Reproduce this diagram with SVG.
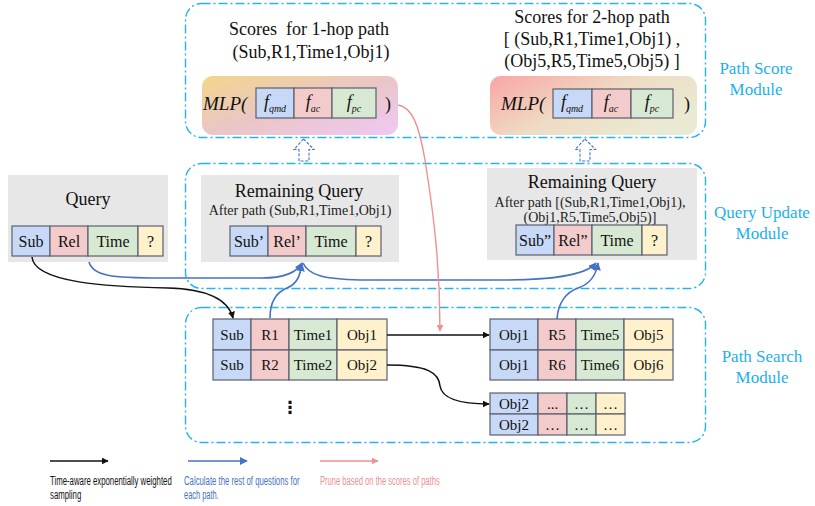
<svg xmlns="http://www.w3.org/2000/svg" width="815" height="506" viewBox="0 0 815 506">
  <defs>
    <style>
      .module { fill: none; stroke: #22b4f0; stroke-width: 1.4; stroke-dasharray: 9 3 2 3; }
      .mlabel { font-family: "Liberation Serif", "Times New Roman", serif; font-size: 17px; fill: #1db0ee; text-anchor: middle; }
      .serif { font-family: "Liberation Serif", "Times New Roman", serif; fill: #111; }
      .title { font-size: 18px; text-anchor: middle; }
      .small { font-size: 14px; text-anchor: middle; fill: #222; }
      .gray { fill: #e7e7e7; }
      .cell { stroke: #5a6070; stroke-width: 1.2; }
      .cb { fill: #c7d9f6; }
      .cr { fill: #f4cbcb; }
      .cg { fill: #d8e9d3; }
      .cy { fill: #fff1cb; }
      .ct { font-family: "Liberation Serif", "Times New Roman", serif; font-size: 15px; fill: #111; text-anchor: middle; }
      .qt { font-family: "Liberation Serif", "Times New Roman", serif; font-size: 16px; fill: #111; text-anchor: middle; }
      .it { font-family: "Liberation Serif", "Times New Roman", serif; font-style: italic; fill: #111; }
      .fx { font-size: 18px; text-anchor: middle; }
      .sub { font-size: 10px; }
      .blk { fill: none; stroke: #111; stroke-width: 1.5; }
      .blu { fill: none; stroke: #4472c4; stroke-width: 1.6; }
      .pnk { fill: none; stroke: #ee9191; stroke-width: 1.4; }
      .hollow { fill: #fff; stroke: #4472c4; stroke-width: 1.1; stroke-dasharray: 3 1.6; }
      .leg { font-family: "Liberation Sans", Arial, sans-serif; font-size: 12px; }
    </style>
    <linearGradient id="g1" x1="0" y1="0" x2="1" y2="1">
      <stop offset="0" stop-color="#f3d68a"/>
      <stop offset="0.5" stop-color="#eac6c6"/>
      <stop offset="1" stop-color="#efc8f5"/>
    </linearGradient>
    <linearGradient id="g2" x1="0" y1="0" x2="1" y2="0.6">
      <stop offset="0" stop-color="#f9a5a5"/>
      <stop offset="0.55" stop-color="#efdcc4"/>
      <stop offset="1" stop-color="#eaead4"/>
    </linearGradient>
    <marker id="ak" viewBox="0 0 10 10" refX="9" refY="5" markerWidth="7" markerHeight="7" markerUnits="userSpaceOnUse" orient="auto">
      <path d="M0,0 L10,5 L0,10 Z" fill="#111"/>
    </marker>
    <marker id="ab" viewBox="0 0 10 10" refX="9" refY="5" markerWidth="8" markerHeight="8" markerUnits="userSpaceOnUse" orient="auto">
      <path d="M0,0 L10,5 L0,10 Z" fill="#4472c4"/>
    </marker>
    <marker id="ap" viewBox="0 0 10 10" refX="9" refY="5" markerWidth="7" markerHeight="7" markerUnits="userSpaceOnUse" orient="auto">
      <path d="M0,0 L10,5 L0,10 Z" fill="#ee9191"/>
    </marker>
  </defs>

  <rect width="815" height="506" fill="#fff"/>

  <!-- module frames -->
  <g id="path-score-module">
    <rect class="module" x="185.5" y="3.5" width="520" height="134" rx="16"/>
    <text class="mlabel" x="756" y="74">Path Score</text>
    <text class="mlabel" x="756" y="95">Module</text>
  </g>
  <g id="query-update-module">
    <rect class="module" x="185.5" y="163.5" width="520" height="125" rx="16"/>
    <text class="mlabel" x="762" y="218">Query Update</text>
    <text class="mlabel" x="762" y="239">Module</text>
  </g>
  <g id="path-search-module">
    <rect class="module" x="185.5" y="307.5" width="520" height="135" rx="16"/>
    <text class="mlabel" x="762" y="362">Path Search</text>
    <text class="mlabel" x="762" y="383">Module</text>
  </g>

  <!-- score captions -->
  <g id="score-1hop">
    <text class="serif title" x="309" y="35">Scores&#160; for 1-hop path</text>
    <text class="serif title" x="311" y="58">(Sub,R1,Time1,Obj1)</text>
  </g>
  <g id="score-2hop">
    <text class="serif title" x="592" y="23">Scores for 2-hop path</text>
    <text class="serif title" x="592" y="45">[ (Sub,R1,Time1,Obj1) ,</text>
    <text class="serif title" x="592" y="67">(Obj5,R5,Time5,Obj5) ]</text>
  </g>

  <!-- MLP scorers -->
  <g id="mlp-1">
    <rect x="202" y="76" width="196" height="59" rx="11" fill="url(#g1)"/>
    <text class="it" x="203" y="110" font-size="19">MLP(</text>
    <rect class="cell cb" x="256" y="88" width="38" height="30"/>
    <rect class="cell cr" x="294" y="88" width="38" height="30"/>
    <rect class="cell cg" x="332" y="88" width="44" height="30"/>
    <text class="it fx" x="275" y="108">f<tspan class="sub" dy="4">qmd</tspan></text>
    <text class="it fx" x="313" y="108">f<tspan class="sub" dy="4">ac</tspan></text>
    <text class="it fx" x="354" y="108">f<tspan class="sub" dy="4">pc</tspan></text>
    <text class="serif" x="385" y="110" font-size="18">)</text>
  </g>
  <g id="mlp-2">
    <rect x="490" y="76" width="207" height="59" rx="11" fill="url(#g2)"/>
    <text class="it" x="501" y="110" font-size="19">MLP(</text>
    <rect class="cell cb" x="553" y="89" width="39" height="29"/>
    <rect class="cell cr" x="592" y="89" width="39" height="29"/>
    <rect class="cell cg" x="631" y="89" width="42" height="29"/>
    <text class="it fx" x="572" y="108">f<tspan class="sub" dy="4">qmd</tspan></text>
    <text class="it fx" x="611" y="108">f<tspan class="sub" dy="4">ac</tspan></text>
    <text class="it fx" x="652" y="108">f<tspan class="sub" dy="4">pc</tspan></text>
    <text class="serif" x="684" y="110" font-size="18">)</text>
  </g>

  <!-- dashed hollow up arrows -->
  <g id="up-arrow-1">
    <path class="hollow" d="M303.5,139 L314,149.5 L309,149.5 L309,161 L299,161 L299,149.5 L294,149.5 Z"/>
  </g>
  <g id="up-arrow-2">
    <path class="hollow" d="M585,139 L595.5,149.5 L590,149.5 L590,161 L580,161 L580,149.5 L575,149.5 Z"/>
  </g>

  <!-- query -->
  <g id="query">
    <rect class="gray" x="8" y="175" width="160" height="87"/>
    <text class="serif title" x="88" y="205">Query</text>
    <rect class="cell cb" x="12" y="226" width="38" height="30"/>
    <rect class="cell cr" x="50" y="226" width="38" height="30"/>
    <rect class="cell cg" x="88" y="226" width="50" height="30"/>
    <rect class="cell cy" x="138" y="226" width="25" height="30"/>
    <text class="qt" x="31" y="247">Sub</text>
    <text class="qt" x="69" y="247">Rel</text>
    <text class="qt" x="113" y="247">Time</text>
    <text class="qt" x="150.5" y="247">?</text>
  </g>

  <!-- remaining query after 1 hop -->
  <g id="remaining-query-1">
    <rect class="gray" x="201" y="175" width="198" height="87"/>
    <text class="serif title" x="299" y="197">Remaining Query</text>
    <text class="serif small" x="300" y="215">After path (Sub,R1,Time1,Obj1)</text>
    <rect class="cell cb" x="230" y="226" width="38" height="30"/>
    <rect class="cell cr" x="268" y="226" width="38" height="30"/>
    <rect class="cell cg" x="306" y="226" width="50" height="30"/>
    <rect class="cell cy" x="356" y="226" width="25" height="30"/>
    <text class="qt" x="249" y="247">Sub’</text>
    <text class="qt" x="287" y="247">Rel’</text>
    <text class="qt" x="331" y="247">Time</text>
    <text class="qt" x="368.5" y="247">?</text>
  </g>

  <!-- remaining query after 2 hops -->
  <g id="remaining-query-2">
    <rect class="gray" x="487" y="168" width="210" height="92"/>
    <text class="serif title" x="592" y="188">Remaining Query</text>
    <text class="serif small" x="590" y="207">After path [(Sub,R1,Time1,Obj1),</text>
    <text class="serif small" x="590" y="222">(Obj1,R5,Time5,Obj5)]</text>
    <rect class="cell cb" x="516" y="225" width="38" height="30"/>
    <rect class="cell cr" x="554" y="225" width="38" height="30"/>
    <rect class="cell cg" x="592" y="225" width="50" height="30"/>
    <rect class="cell cy" x="642" y="225" width="25" height="30"/>
    <text class="qt" x="535" y="246">Sub”</text>
    <text class="qt" x="573" y="246">Rel”</text>
    <text class="qt" x="617" y="246">Time</text>
    <text class="qt" x="654.5" y="246">?</text>
  </g>

  <!-- 1-hop paths -->
  <g id="paths-1hop">
    <rect class="cell cb" x="213" y="319" width="38" height="31"/>
    <rect class="cell cr" x="251" y="319" width="38" height="31"/>
    <rect class="cell cg" x="289" y="319" width="48" height="31"/>
    <rect class="cell cy" x="337" y="319" width="50" height="31" stroke="#4472c4"/>
    <rect class="cell cb" x="213" y="350" width="38" height="30"/>
    <rect class="cell cr" x="251" y="350" width="38" height="30"/>
    <rect class="cell cg" x="289" y="350" width="48" height="30"/>
    <rect class="cell cy" x="337" y="350" width="50" height="30"/>
    <text class="ct" x="232" y="340">Sub</text>
    <text class="ct" x="270" y="340">R1</text>
    <text class="ct" x="313" y="340">Time1</text>
    <text class="ct" x="362" y="340">Obj1</text>
    <text class="ct" x="232" y="370">Sub</text>
    <text class="ct" x="270" y="370">R2</text>
    <text class="ct" x="313" y="370">Time2</text>
    <text class="ct" x="362" y="370">Obj2</text>
    <text x="290" y="413" font-family="DejaVu Sans, sans-serif" font-size="17" font-weight="bold" text-anchor="middle" fill="#111">⋮</text>
  </g>

  <!-- 2-hop paths from Obj1 -->
  <g id="paths-2hop-obj1">
    <rect class="cell cb" x="490" y="319" width="48" height="31"/>
    <rect class="cell cr" x="538" y="319" width="38" height="31"/>
    <rect class="cell cg" x="576" y="319" width="48" height="31"/>
    <rect class="cell cy" x="624" y="319" width="49" height="31"/>
    <rect class="cell cb" x="490" y="350" width="48" height="30"/>
    <rect class="cell cr" x="538" y="350" width="38" height="30"/>
    <rect class="cell cg" x="576" y="350" width="48" height="30"/>
    <rect class="cell cy" x="624" y="350" width="49" height="30"/>
    <text class="ct" x="514" y="340">Obj1</text>
    <text class="ct" x="557" y="340">R5</text>
    <text class="ct" x="600" y="340">Time5</text>
    <text class="ct" x="648.5" y="340">Obj5</text>
    <text class="ct" x="514" y="370">Obj1</text>
    <text class="ct" x="557" y="370">R6</text>
    <text class="ct" x="600" y="370">Time6</text>
    <text class="ct" x="648.5" y="370">Obj6</text>
  </g>

  <!-- 2-hop paths from Obj2 -->
  <g id="paths-2hop-obj2">
    <rect class="cell cb" x="490" y="393" width="48" height="21"/>
    <rect class="cell cr" x="538" y="393" width="29" height="21"/>
    <rect class="cell cg" x="567" y="393" width="29" height="21"/>
    <rect class="cell cy" x="596" y="393" width="29" height="21"/>
    <rect class="cell cb" x="490" y="414" width="48" height="21"/>
    <rect class="cell cr" x="538" y="414" width="29" height="21"/>
    <rect class="cell cg" x="567" y="414" width="29" height="21"/>
    <rect class="cell cy" x="596" y="414" width="29" height="21"/>
    <text class="ct" x="514" y="409">Obj2</text>
    <text class="ct" x="552.5" y="409">...</text>
    <text class="ct" x="581.5" y="409">…</text>
    <text class="ct" x="610.5" y="409">…</text>
    <text class="ct" x="514" y="430">Obj2</text>
    <text class="ct" x="552.5" y="430">…</text>
    <text class="ct" x="581.5" y="430">…</text>
    <text class="ct" x="610.5" y="430">…</text>
  </g>

  <!-- connectors -->
  <g id="connectors">
    <!-- sampling -->
    <path class="blk" marker-end="url(#ak)" d="M32,257 C34,283 110,287 168,288 C205,289 228,298 233,318"/>
    <path class="blk" marker-end="url(#ak)" d="M387,335 L489,335"/>
    <path class="blk" marker-end="url(#ak)" d="M387,365 C428,365 439,373 440,386 C442,399 462,404 489,404"/>
    <!-- query update -->
    <path class="blu" marker-end="url(#ab)" d="M89,262 C93,276 112,278 160,278 L262,278 C285,278 297,272 302,263"/>
    <path class="blu" marker-end="url(#ab)" d="M270,318 C270,300 277,292 287,288 C297,284 300,276 302,264"/>
    <path class="blu" marker-end="url(#ab)" d="M303,263 C309,276 325,279 360,280 L500,280 C550,280 585,276 596,263"/>
    <path class="blu" marker-end="url(#ab)" d="M557,319 C558,302 567,292 578,288 C590,284 596,276 598,263"/>
    <!-- prune -->
    <path class="pnk" marker-end="url(#ap)" d="M398,105 C412,107 419,125 425,160 C433,210 440,262 440,331"/>
  </g>

  <!-- legend (condensed sans captions) -->
  <g id="legend">
    <path class="blk" marker-end="url(#ak)" d="M50,461 L108,461" stroke-width="1.3"/>
    <path class="blu" marker-end="url(#ab)" d="M188,461 L247,461" stroke-width="1.3"/>
    <path class="pnk" marker-end="url(#ap)" d="M320,461 L378,461" stroke-width="1.3"/>
    <text class="leg" transform="translate(50 485) scale(0.68 1)" fill="#111" textLength="179" lengthAdjust="spacingAndGlyphs">Time-aware exponentially weighted</text>
    <text class="leg" transform="translate(50 499) scale(0.68 1)" fill="#111" textLength="46" lengthAdjust="spacingAndGlyphs">sampling</text>
    <text class="leg" transform="translate(184 485) scale(0.68 1)" fill="#4472c4" textLength="170" lengthAdjust="spacingAndGlyphs">Calculate the rest of questions for</text>
    <text class="leg" transform="translate(184 499) scale(0.68 1)" fill="#4472c4" textLength="51" lengthAdjust="spacingAndGlyphs">each path.</text>
    <text class="leg" transform="translate(320 485) scale(0.68 1)" fill="#ee9191" textLength="176" lengthAdjust="spacingAndGlyphs">Prune based on the scores of paths</text>
  </g>
</svg>
